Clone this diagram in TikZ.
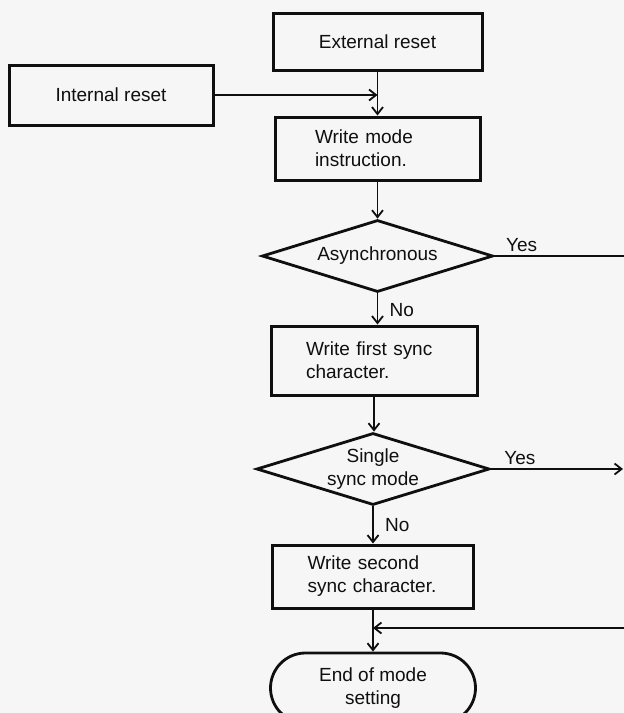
\documentclass[tikz,border=0pt]{standalone}
\usepackage{fontspec}
\setmainfont{Liberation Sans}
\usetikzlibrary{shapes.geometric,shapes.misc,arrows.meta}
\definecolor{paper}{RGB}{246,246,246}
\definecolor{ink}{RGB}{15,15,15}
\begin{document}
\begin{tikzpicture}[x=1pt,y=-1pt,
  font=\fontsize{19}{23}\selectfont,
  every node/.style={text=ink},
  box/.style={draw=ink, line width=3pt, rectangle, inner sep=0pt},
  dia/.style={draw=ink, line width=2.8pt, diamond, aspect=3.2, inner sep=0pt, align=center},
  termbox/.style={draw=ink, line width=2.8pt, rounded rectangle, inner sep=0pt, align=center},
  conn/.style={draw=ink, line width=1.8pt},
  arr/.style={conn, -{Straight Barb[length=7pt,width=11pt,line width=1.8pt]}}
]
\fill[paper] (0,0) rectangle (624,713);
\useasboundingbox (0,0) rectangle (624,713);
\clip (0,0) rectangle (624,713);

\node[box, minimum width=209, minimum height=57] (ext) at (377.5,41.5) {External reset};
\node[box, minimum width=204, minimum height=60] (int) at (111,95) {Internal reset};
\node[box, minimum width=205, minimum height=63, text width=125, align=left] (wmi) at (377.5,148.5) {Write mode\\instruction.};
\node[dia, minimum width=231, minimum height=72] (async) at (377.5,256) {Asynchronous};
\node[box, minimum width=206, minimum height=69, text width=136, align=left] (wfs) at (374,360.5) {Write first sync\\character.};
\node[dia, minimum width=233, minimum height=72] (sync) at (373,469) {Single\\sync mode};
\node[box, minimum width=201, minimum height=63, text width=131, align=left] (wss) at (373,576.5) {Write second\\sync character.};
\node[termbox, minimum width=205, minimum height=70] (end) at (373,688) {End of mode\\setting};

\coordinate (yesA) at (624,256);
\coordinate (yesB) at (623,469);
\coordinate (ret) at (624,628);

\draw[arr] (ext.south) -- (wmi.north);
\draw[arr] (int.east) -- (int.east -| ext.south);
\draw[arr] (wmi.south) -- (async.north);
\draw[conn] (async.east) -- (yesA) node[pos=0.21, above] {Yes};
\draw[arr] (async.south) -- (async.south |- wfs.north) node[pos=0.55, right=8pt] {No};
\draw[arr] (wfs.south) -- (wfs.south |- sync.north);
\draw[arr] (sync.east) -- (yesB) node[pos=0.22, above] {Yes};
\draw[arr] (sync.south) -- (wss.north) node[midway, right=8pt] {No};
\draw[arr] (wss.south) -- (end.north);
\draw[arr] (ret) -- (ret -| wss.south);
\end{tikzpicture}
\end{document}
